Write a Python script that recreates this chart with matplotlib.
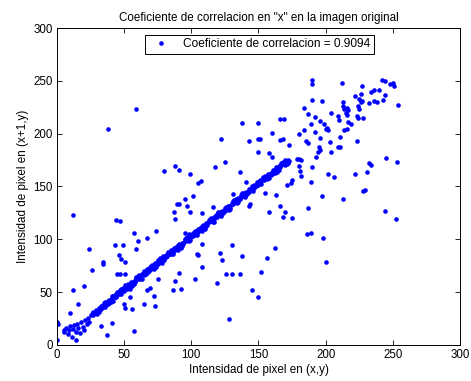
import matplotlib.pyplot as plt

plt.rcParams['font.family'] = ['Liberation Sans', 'DejaVu Sans']

# Pixel pairs that follow the main diagonal (neighbouring pixels with similar intensity)
diag_x = [5, 7, 8, 9, 10, 11, 12, 13, 14, 15, 16, 17, 18, 19, 20, 21, 22, 23, 24, 25,
          26, 27, 28, 29, 30, 31, 32, 33, 34, 35, 36, 37, 38, 39, 40, 41, 42, 43, 44, 45,
          46, 47, 48, 49, 50, 51, 52, 53, 54, 55, 56, 57, 58, 59, 60, 61, 62, 63, 64, 65,
          66, 67, 68, 69, 70, 71, 72, 73, 74, 75, 76, 77, 78, 79, 80, 81, 82, 83, 84, 85,
          86, 87, 88, 89, 90, 91, 92, 93, 94, 95, 96, 97, 98, 99, 100, 101, 102, 103, 104, 105,
          106, 107, 108, 109, 110, 111, 112, 113, 114, 115, 116, 117, 118, 119, 120, 121, 122, 123, 124, 125,
          126, 127, 128, 129, 130, 131, 132, 133, 134, 135, 136, 137, 138, 139, 140, 141, 142, 143, 144, 145,
          146, 147, 148, 149, 150, 151, 152, 153, 154, 155, 156, 157, 158, 159, 160, 161, 162, 163, 164, 165,
          166, 167, 168, 169, 170, 171, 172, 173,
          30, 33, 36, 39, 42, 45, 48, 51, 54, 57, 60, 63, 66, 69, 72, 75, 78, 81, 84, 87,
          90, 93, 96, 99, 102, 105, 108, 111, 114, 117, 120, 123, 126, 129, 132, 135, 138, 141, 144, 147,
          150, 153, 156, 159, 162, 165, 168, 170,
          27, 31, 35, 38, 41, 44, 47, 50, 53, 56, 59, 62, 65, 68, 71, 74, 77, 80, 83, 86,
          89, 92, 95, 98, 101, 104, 107, 110, 113, 116, 119, 122, 125, 128, 131, 134, 137, 140, 143, 146,
          149, 152, 155, 158, 161, 164, 167, 170, 172,
          29, 34, 37, 40, 43, 46, 49, 52, 55, 58, 61, 64, 67, 70, 73, 76, 79, 82, 85, 88,
          91, 94, 97, 100, 103, 106, 109, 112, 115, 118, 121, 124, 127, 130, 133, 136, 139, 142, 145, 148,
          151, 154, 157, 160, 163, 166, 169, 171]
diag_y = [12, 16, 10, 14, 18, 8, 15, 19, 12, 20, 16, 11, 22, 17, 14, 24, 20, 26, 22, 28,
          29, 31, 30, 33, 32, 35, 34, 37, 36, 38, 41, 39, 42, 40, 44, 43, 46, 45, 48, 47,
          50, 49, 53, 51, 54, 55, 53, 57, 56, 59, 58, 61, 60, 63, 62, 65, 64, 67, 68, 66,
          70, 69, 72, 71, 75, 73, 76, 75, 78, 77, 80, 79, 82, 83, 82, 85, 84, 87, 88, 86,
          90, 89, 92, 91, 94, 95, 93, 97, 96, 99, 98, 100, 102, 101, 104, 103, 106, 105, 108, 107,
          110, 109, 111, 113, 112, 115, 114, 116, 118, 117, 120, 119, 122, 121, 123, 125, 124, 127, 126, 129,
          128, 130, 132, 131, 134, 133, 135, 137, 136, 139, 138, 140, 142, 141, 143, 145, 144, 146, 148, 147,
          149, 151, 150, 152, 154, 153, 155, 157, 156, 158, 160, 159, 161, 163, 162, 164, 166, 165, 167, 169,
          168, 170, 171, 173, 172, 174, 175, 174,
          29, 34, 36, 43, 42, 50, 48, 57, 53, 58, 65, 62, 67, 74, 72, 80, 78, 83, 86, 92,
          90, 94, 101, 99, 104, 110, 108, 113, 119, 116, 126, 124, 131, 129, 137, 135, 144, 142, 146, 149,
          151, 159, 157, 161, 163, 166, 173, 170,
          28, 31, 40, 39, 46, 45, 52, 51, 58, 56, 64, 62, 70, 69, 76, 74, 82, 80, 88, 86,
          94, 92, 100, 98, 106, 104, 112, 110, 118, 116, 124, 122, 130, 128, 136, 134, 142, 140, 148, 146,
          154, 152, 160, 158, 166, 164, 172, 175, 172,
          31, 38, 41, 41, 47, 48, 54, 55, 60, 61, 66, 67, 72, 73, 78, 79, 84, 85, 90, 91,
          96, 97, 102, 103, 108, 109, 114, 115, 120, 121, 126, 127, 132, 133, 138, 139, 144, 145, 150, 151,
          156, 157, 162, 163, 168, 169, 173, 171]

# Scattered pairs away from the diagonal
out_x = [38, 59, 138, 150, 122, 143, 150, 150, 80, 88, 91, 99, 105, 107, 118, 125, 136, 141,
         190, 190, 212, 242, 244, 248, 250, 251, 254, 227, 222, 226, 234, 236, 240, 244, 225, 227,
         226, 232, 236, 238, 243, 213, 213, 216, 214, 217, 215, 216, 224, 225, 224, 223, 228, 204,
         209, 210, 217, 219, 216, 214, 211, 223, 209, 211, 190, 197, 184, 187, 192, 196, 189, 199,
         201, 202, 200, 192, 196, 184, 180, 185, 187, 195, 196, 194, 203, 204, 193, 180, 182, 180,
         181, 182, 190, 189, 202, 206, 222, 231, 232, 234, 245, 253, 229, 166, 169, 160, 151, 166,
         168, 173, 158, 160, 179, 171, 174, 175,
         12, 44, 47, 24, 26, 34, 34, 43, 49, 46, 48, 51, 57, 60, 59, 67, 74, 45, 47, 51, 20, 12,
         16, 10, 0, 1, 0, 5, 33, 37, 41, 57, 14, 50, 51, 54, 56, 65, 67, 69, 72, 73, 75, 86, 88, 91,
         92, 103, 87, 88, 89, 91, 95, 101, 97, 99, 108, 95, 98, 104, 105, 108, 108, 116, 119, 121,
         123, 126, 130, 128, 130, 131, 136, 138, 143, 144, 145, 150,
         155, 163, 158, 166, 168, 170, 175, 187, 197, 213, 228, 244, 252, 186, 189, 198, 200, 162,
         156, 152]
out_y = [204, 223, 210, 210, 195, 193, 195, 183, 165, 169, 166, 162, 153, 155, 168, 173, 164, 154,
         251, 247, 248, 251, 250, 247, 248, 245, 227, 245, 236, 238, 239, 241, 241, 237, 233, 231,
         230, 229, 231, 230, 232, 230, 226, 224, 223, 222, 220, 218, 226, 223, 215, 217, 215, 220,
         217, 213, 211, 209, 204, 203, 197, 193, 187, 187, 232, 231, 224, 219, 216, 212, 209, 209,
         205, 203, 204, 202, 196, 203, 200, 193, 191, 187, 185, 183, 192, 183, 178, 176, 175, 169,
         165, 160, 168, 154, 162, 159, 162, 164, 172, 170, 177, 173, 147, 214, 214, 201, 195, 194,
         195, 189, 182, 178, 176, 151, 153, 156,
         123, 118, 117, 91, 71, 79, 77, 95, 95, 85, 81, 79, 106, 98, 91, 101, 108, 67, 67, 67, 56, 52,
         39, 30, 22, 20, 5, 14, 18, 9, 21, 13, 5, 39, 35, 45, 34, 39, 52, 54, 46, 37, 62, 52, 61, 68,
         53, 62, 126, 119, 133, 133, 138, 141, 132, 126, 125, 106, 105, 86, 85, 96, 74, 131, 59, 87,
         80, 67, 67, 25, 95, 143, 67, 84, 132, 133, 52, 45,
         144, 142, 126, 132, 121, 126, 120, 130, 141, 138, 146, 127, 119, 105, 106, 101, 79, 92,
         82, 69]

xs = diag_x + out_x
ys = diag_y + out_y

fig = plt.figure(figsize=(4.71, 3.81), dpi=100)
ax = fig.add_axes([0.121, 0.0945, 0.8556, 0.832])

ax.plot(xs, ys, linestyle='none', marker='o', markersize=3.3, markeredgewidth=0,
        color='#0000FF', label='Coeficiente de correlacion = 0.9094')

ax.set_xlim(0, 300)
ax.set_ylim(0, 300)
ax.set_xticks(range(0, 301, 50))
ax.set_yticks(range(0, 301, 50))
ax.tick_params(direction='in', top=True, right=True, length=3.5, width=0.6,
               labelsize=8.3, pad=3)
for s in ax.spines.values():
    s.set_linewidth(0.7)

ax.set_title('Coeficiente de correlacion en "x" en la imagen original', fontsize=8.4, pad=5)
ax.set_xlabel('Intensidad de pixel en (x,y)', fontsize=8.4, labelpad=2)
ax.set_ylabel('Intensidad de pixel en (x+1,y)', fontsize=8.4, labelpad=3)

leg = ax.legend(loc='upper center', bbox_to_anchor=(0.502, 0.986), fontsize=8.6,
                fancybox=False, framealpha=1, edgecolor='black', handlelength=2.2,
                borderpad=0.3, handletextpad=0.7, borderaxespad=0.2, markerscale=1.0)
leg.get_frame().set_linewidth(0.7)

fig.savefig('out.png', dpi=100)
